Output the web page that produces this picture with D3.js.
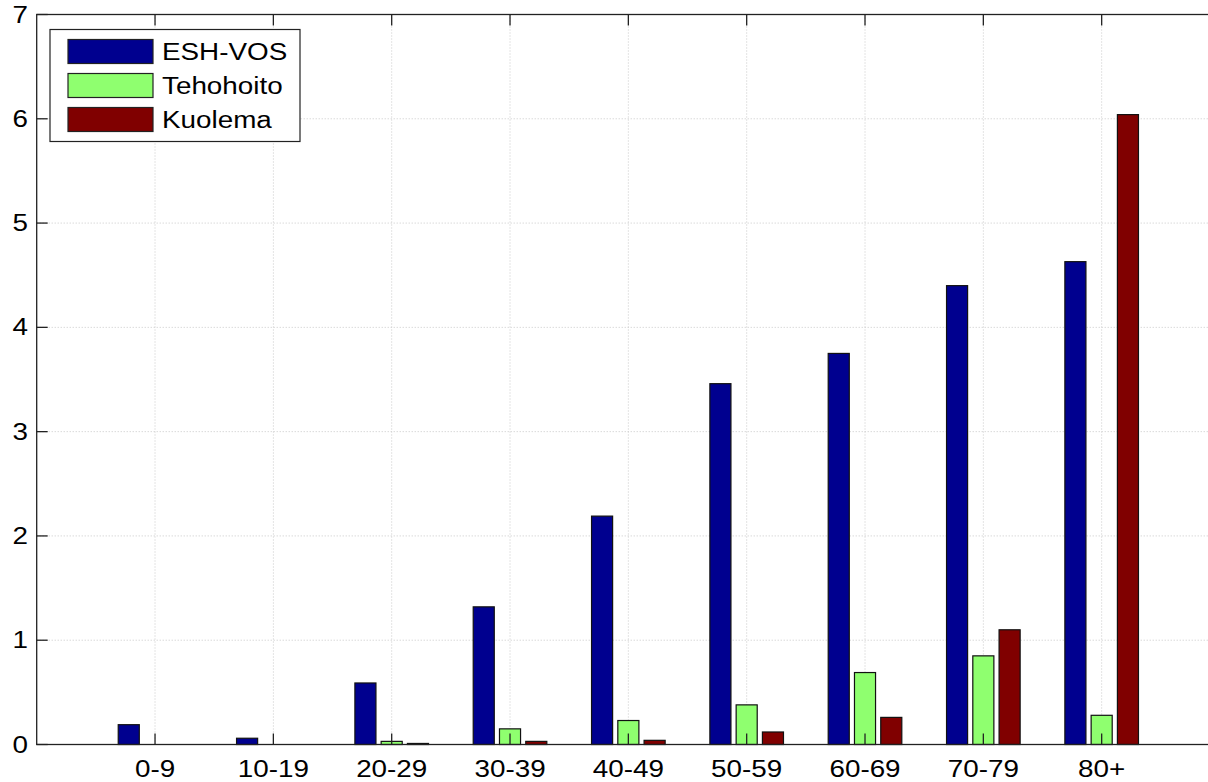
<!DOCTYPE html>
<html>
<head>
<meta charset="utf-8">
<script src="https://cdnjs.cloudflare.com/ajax/libs/d3/7.8.5/d3.min.js"></script>
<style>
  body { margin: 0; background: #fff; }
  svg { display: block; font-family: "Liberation Sans", Arial, sans-serif; }
</style>
</head>
<body>
<div id="chart"></div>
<script>
// age groups and rates
var categories = ["0-9", "10-19", "20-29", "30-39", "40-49", "50-59", "60-69", "70-79", "80+"];
var seriesNames = ["ESH-VOS", "Tehohoito", "Kuolema"];
var eshVos = [0.19, 0.06, 0.59, 1.32, 2.19, 3.46, 3.75, 4.40, 4.63];
var tehohoito = [0, 0, 0.03, 0.15, 0.23, 0.38, 0.69, 0.85, 0.28];
var kuolema = [0, 0, 0.01, 0.03, 0.04, 0.12, 0.26, 1.10, 6.04];
var yTicks = [0, 1, 2, 3, 4, 5, 6, 7];
var colors = ["#00008f", "#8fff6f", "#800000"];

var W = 1208, H = 782;
var svg = d3.select("#chart").append("svg")
            .attr("width", W)
            .attr("height", H);

// matlab style axis: categories at 1..9, box from 0 to 10
var x = d3.scaleLinear().domain([0, 10]).range([36.7, 1220]);
var y = d3.scaleLinear().domain([0, 7]).range([744.5, 14.5]);

var series = [eshVos, tehohoito, kuolema];
var step = 0.222, bw = 0.178;
var sx = 1.21; // text looks stretched sideways in the original

function stretched(sel, px, py) {
  sel.attr("transform", function(d, i){
    return "translate(" + px(d, i) + "," + py(d, i) + ") scale(" + sx + ",1)";
  });
}

// grid
svg.selectAll(".hgrid").data(yTicks.slice(1, -1)).enter().append("line")
   .attr("x1", x(0)).attr("x2", x(10))
   .attr("y1", function(d){ return y(d); })
   .attr("y2", function(d){ return y(d); })
   .style("stroke", "#c8c8c8")
   .style("stroke-dasharray", "1,2");
svg.selectAll(".vgrid").data(categories).enter().append("line")
   .attr("x1", function(d, i){ return x(i + 1); })
   .attr("x2", function(d, i){ return x(i + 1); })
   .attr("y1", y(0)).attr("y2", y(7))
   .style("stroke", "#c8c8c8")
   .style("stroke-dasharray", "1,2");

// bars
series.forEach(function(vals, s){
  svg.selectAll(".bar" + s).data(vals).enter().append("rect")
     .attr("x", function(d, i){ return x(i + 1 + (s - 1) * step - bw / 2); })
     .attr("width", x(bw) - x(0))
     .attr("y", function(d){ return y(d); })
     .attr("height", function(d){ return y(0) - y(d); })
     .style("fill", colors[s])
     .style("stroke", "#111")
     .style("stroke-width", 1.2);
});

// axis box
svg.append("rect")
   .attr("x", x(0)).attr("y", y(7))
   .attr("width", x(10) - x(0)).attr("height", y(0) - y(7))
   .style("fill", "none")
   .style("stroke", "#222")
   .style("stroke-width", 1.3);

// ticks (inside)
var tl = 11;
svg.selectAll(".xt").data(categories).enter().append("line")
   .attr("x1", function(d, i){ return x(i + 1); })
   .attr("x2", function(d, i){ return x(i + 1); })
   .attr("y1", y(0)).attr("y2", y(0) - tl)
   .style("stroke", "#222").style("stroke-width", 1.3);
svg.selectAll(".xt2").data(categories).enter().append("line")
   .attr("x1", function(d, i){ return x(i + 1); })
   .attr("x2", function(d, i){ return x(i + 1); })
   .attr("y1", y(7)).attr("y2", y(7) + tl)
   .style("stroke", "#222").style("stroke-width", 1.3);
svg.selectAll(".yt").data(yTicks).enter().append("line")
   .attr("x1", x(0)).attr("x2", x(0) + tl)
   .attr("y1", function(d){ return y(d); })
   .attr("y2", function(d){ return y(d); })
   .style("stroke", "#222").style("stroke-width", 1.3);

// tick labels
var xl = svg.selectAll(".xl").data(categories).enter().append("text")
   .attr("text-anchor", "middle")
   .style("font-size", "23px")
   .text(function(d){ return d; });
stretched(xl, function(d, i){ return x(i + 1); }, function(){ return 777; });

var yl = svg.selectAll(".yl").data(yTicks).enter().append("text")
   .attr("text-anchor", "end")
   .style("font-size", "23px")
   .text(function(d){ return d; });
stretched(yl, function(){ return 28; }, function(d){ return y(d) + 8; });

// legend
var leg = svg.append("g");
leg.append("rect")
   .attr("x", 50).attr("y", 29.5)
   .attr("width", 250).attr("height", 112)
   .style("fill", "#fff")
   .style("stroke", "#222")
   .style("stroke-width", 1.2);
seriesNames.forEach(function(n, i){
  leg.append("rect")
     .attr("x", 68).attr("y", 39.5 + i * 34)
     .attr("width", 85).attr("height", 24)
     .style("fill", colors[i])
     .style("stroke", "#222")
     .style("stroke-width", 1.2);
  leg.append("text")
     .attr("transform", "translate(162," + (60 + i * 34) + ") scale(" + sx + ",1)")
     .style("font-size", "23px")
     .text(n);
});
</script>
</body>
</html>
